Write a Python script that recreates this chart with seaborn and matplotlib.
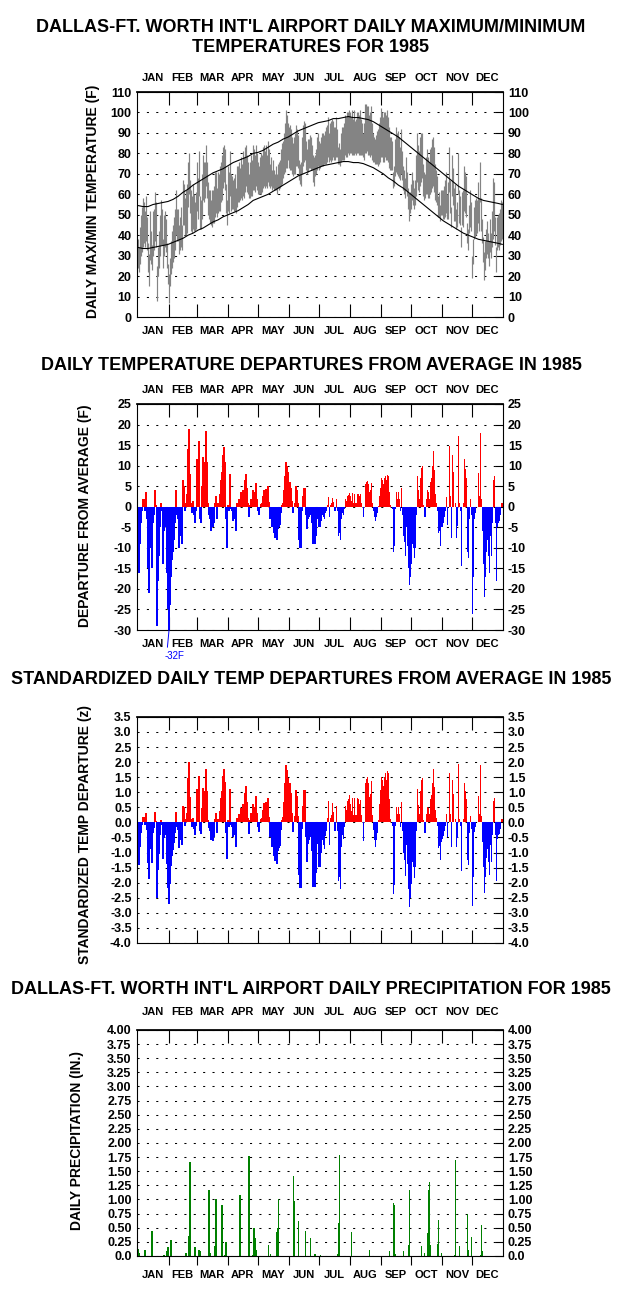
import numpy as np
import pandas as pd
import matplotlib
matplotlib.use('Agg')
import matplotlib.pyplot as plt
import seaborn as sns

# ---- calendar ----
months = ['JAN', 'FEB', 'MAR', 'APR', 'MAY', 'JUN', 'JUL', 'AUG', 'SEP', 'OCT', 'NOV', 'DEC']
month_days = [31, 28, 31, 30, 31, 30, 31, 31, 30, 31, 30, 31]

# ---- daily departure from normal mean temperature (F) ----
departure = [
    -13, -16, -9, -4, -1, 2, 2, -1, 3.5, -3, -15, -21, -4, -10, -15, -4, -2, 4, 0.5, -29, -18, -12, -5, 1, -1, -14, -6, -3, -5, -16, -25,  # jan
    -32, -24, -17, -13, -11, -8, -4, 4, -2, -3, -10, -7, -4, -9, 6.5, 5, -1, 1, 3, 14, 19, 8, 1, -1.5, 1.5, -2, -4, -1,  # feb
    11.5, 4, 16, -3, -4, 5, 12, 10.5, 11, 18.5, 11, 1, -2, -3, -6, -4, -5, -4, 1, 2.5, -3, 1, 1, 3, 6.5, 8.5, 12.5, 14.5, 11, -3, -10,  # mar
    0.5, -1, 8, -0.6, -1, -3.5, -3, -2, -6, 1, 1, 2, 1, 3.5, 1.5, 4, 3, 6.5, 8, 4.5, 1, -2.5, 0.5, 2, 1, 4, 3.5, 1.5, 5.8, 2,  # apr
    -1, -2, 0, 0.6, 1, 2.5, 4, 2, 4.2, 1, 5, 1.2, -3, -1, -5, -3, -6.5, -7.5, -5.5, -8, -5.5, -5, -4.5, -1.5, 0.5, 1, 4, 7.5, 11, 10, 8.5,  # may
    5.5, 6, 4.5, 1.5, -1.5, 0, 1, 5, 4, 1, -8, -10, -10, -1, 2.5, 4.5, 4.5, -2, -5.5, -3, -2.5, -1.5, -2, -4, -9, -9, -9, -7, -3, -2.5,  # jun
    -5, -5, -3.5, -2, -2.5, -3, -1.5, -1, 0.5, 2.4, -2.5, 0.5, 0.8, 2.2, 1.2, -1, -1, 2, -1, -7, -6.5, -8, -3, -1.5, -2, -0.5, 2, 1.5, 2.5, 2.8, 3.3,  # jul
    2.5, 1.5, 3.3, 1, 3.2, 1, 1, 3.2, 3.1, 2.5, 3, 1, 0, -2.5, 0, 5.5, 6, 6.3, 5.5, 3.5, 4, 5.8, 1, -1, -2.5, -3.5, -2.5, -1.5, 0.3, 2.5, 4.5,  # aug
    7, 6.5, 5.5, 7, 7.5, 6.5, 7.8, 7.5, 3.5, 0.5, 0, -0.5, -11, -9.5, -0.5, 3.5, 2, 3.5, 2, -1, 4.5, -2, -7, -8.5, -12, -5, -9.5, -15, -19, -17,  # sep
    -14, -9, -10, -12.5, -10, -2, 7.5, 4, 2, 7, 9.5, 10, 0.5, -2.5, -2.5, 2, 4, 3.5, 2, 6, 7, 10, 13.5, 9, 3, 1, -1, -6.5, -6, -9.5, -5,  # oct
    -5, -4, -2.5, -1, 2.4, -4.5, 0, 14.7, 2.5, -7.5, 12.6, 8.5, 0, 1, -7.5, -4.7, 17.2, 1, -1, -14.5, 0, 1, 11.5, 9.3, 7, -11, -12.5, -3, 2, -2,  # nov
    -26, -17, -3, -1.5, 0, 0, 8.2, 2.5, 18, 2, -6, -14, -22, -17, -11, -8, -12, -16, -7, -12, -4, 6.5, 7.5, -4, -18, -5, -4, -3.5, -2, 1, 1,  # dec
]

# standard deviation of daily mean temp, per half month (1st-15th, 16th-end)
sd_half_month = [11.2, 11.5, 11.8, 9.5, 10.5, 8.2, 7.2, 6.7, 6.2, 5.8, 4.6, 4.2,
                 3.4, 3.6, 4.0, 4.2, 4.6, 6.8, 6.8, 7.6, 9.0, 8.9, 9.4, 9.2]

# ---- daily max / min temperatures (F) ----
tmax = [
    38, 34, 44, 50, 54, 58, 56, 52, 59, 49, 36, 31, 52, 42, 35, 52, 53, 61, 56, 25, 34, 42, 50, 57, 53, 38, 50, 52, 48, 36, 26,
    21, 29, 37, 42, 45, 49, 53, 62, 53, 53, 45, 49, 54, 45, 67, 65, 58, 62, 65, 76, 80, 67, 62, 59, 65, 60, 56, 61,
    76, 68, 81, 59, 57, 70, 79, 76, 76, 84, 76, 66, 62, 62, 57, 62, 62, 64, 71, 71, 63, 71, 70, 74, 76, 79, 83, 84, 82, 65, 57,
    74, 71, 81, 70, 69, 67, 68, 70, 63, 74, 74, 76, 73, 78, 75, 81, 78, 83, 84, 79, 76, 70, 76, 79, 77, 84, 82, 79, 84, 80,
    76, 74, 78, 80, 79, 83, 84, 81, 84, 79, 86, 82, 75, 78, 72, 77, 72, 70, 74, 70, 75, 76, 77, 82, 85, 86, 90, 95, 101, 99, 95,
    93, 94, 92, 88, 85, 88, 90, 94, 92, 89, 77, 75, 76, 88, 94, 96, 95, 86, 82, 87, 87, 89, 88, 84, 79, 78, 79, 82, 88, 90,
    86, 85, 88, 90, 90, 89, 91, 93, 94, 98, 90, 95, 96, 97, 96, 93, 93, 98, 92, 83, 85, 82, 90, 93, 93, 95, 99, 98, 100, 100, 101,
    100, 98, 101, 97, 101, 96, 97, 100, 100, 99, 101, 97, 95, 90, 95, 104, 104, 103, 103, 99, 100, 103, 95, 90, 88, 87, 89, 91, 92, 95, 98,
    102, 100, 98, 100, 100, 99, 101, 98, 93, 88, 88, 86, 71, 74, 87, 93, 90, 91, 88, 83, 92, 81, 74, 72, 68, 78, 71, 63, 60, 61,
    65, 71, 67, 63, 67, 79, 90, 84, 81, 88, 90, 90, 75, 71, 70, 78, 82, 78, 76, 82, 83, 87, 88, 83, 75, 72, 69, 59, 61, 55, 62,
    62, 62, 64, 67, 71, 60, 66, 83, 67, 54, 79, 73, 63, 65, 53, 56, 80, 62, 59, 44, 61, 62, 74, 71, 69, 46, 43, 55, 62, 56,
    30, 38, 54, 57, 58, 57, 66, 58, 76, 58, 48, 39, 32, 37, 43, 47, 41, 37, 48, 41, 52, 68, 66, 49, 34, 49, 50, 51, 53, 57, 56,
]
tmin = [
    24, 22, 26, 30, 32, 34, 36, 34, 37, 33, 22, 15, 28, 26, 23, 30, 33, 37, 34, 8, 20, 24, 30, 35, 35, 24, 30, 34, 32, 24, 16,
    7, 15, 21, 24, 27, 29, 33, 40, 37, 37, 31, 33, 34, 33, 45, 45, 40, 40, 41, 54, 60, 51, 42, 41, 43, 42, 42, 43,
    52, 48, 59, 43, 43, 48, 57, 56, 58, 64, 58, 50, 48, 46, 45, 44, 46, 46, 49, 51, 49, 51, 52, 52, 56, 57, 63, 66, 62, 51, 45,
    52, 51, 59, 52, 53, 53, 52, 52, 51, 54, 56, 56, 57, 58, 57, 59, 58, 61, 64, 61, 60, 58, 58, 59, 59, 62, 62, 61, 64, 62,
    60, 60, 60, 60, 61, 63, 64, 63, 64, 63, 66, 64, 63, 64, 62, 63, 62, 62, 62, 60, 63, 62, 63, 64, 65, 68, 70, 71, 73, 73, 77,
    73, 72, 72, 70, 69, 70, 70, 74, 74, 73, 67, 65, 64, 70, 74, 76, 77, 72, 70, 71, 73, 73, 72, 72, 66, 64, 69, 70, 72, 74,
    72, 73, 74, 74, 74, 75, 75, 75, 76, 78, 76, 77, 76, 77, 78, 77, 77, 78, 78, 75, 75, 74, 76, 77, 77, 77, 79, 78, 78, 80, 79,
    80, 80, 79, 79, 79, 80, 79, 80, 80, 79, 79, 79, 79, 78, 77, 80, 80, 81, 79, 79, 78, 79, 77, 76, 76, 75, 75, 75, 74, 75, 76,
    78, 78, 76, 76, 78, 77, 77, 76, 73, 72, 72, 72, 63, 64, 69, 71, 70, 69, 68, 67, 70, 67, 62, 60, 58, 62, 59, 53, 47, 51,
    53, 57, 55, 53, 55, 59, 66, 62, 61, 64, 66, 68, 59, 57, 58, 60, 60, 58, 58, 60, 61, 63, 64, 61, 57, 56, 55, 49, 49, 47, 50,
    50, 48, 48, 49, 51, 48, 48, 61, 51, 44, 59, 55, 47, 47, 43, 44, 60, 46, 45, 34, 45, 44, 52, 51, 49, 36, 33, 41, 44, 42,
    19, 26, 38, 39, 40, 41, 46, 42, 56, 42, 36, 27, 18, 23, 29, 31, 29, 25, 32, 29, 34, 38, 42, 35, 22, 33, 34, 33, 35, 37, 38,
]

# ---- normal max / min (F), every 5th day ----
norm_days = list(range(0, 361, 5)) + [364]
norm_max = [54.5, 54, 54, 55, 55.5, 56, 56.5, 57.5, 59, 61,
            62.5, 64.5, 66, 67.5, 69, 70.5, 71.5, 72.5, 74, 75.5,
            76.5, 77.5, 78.5, 80, 80.5, 81.5, 83, 84.5, 85.5, 87,
            88, 89.5, 91, 92, 93, 94, 95, 95.5, 96, 97,
            97, 97.5, 98, 97.5, 97.5, 97, 96.5, 95.5, 94, 92.5,
            91, 89.5, 88, 86, 84, 82, 80, 78, 76, 74,
            72, 70, 68, 66, 64, 62.5, 61, 59.5, 58, 57,
            56.5, 56, 55.5, 55]
norm_min = [34, 33.5, 33.5, 34, 34.5, 35, 35.5, 36.5, 37.5, 38.5,
            40, 41, 42.5, 43.5, 45, 46.5, 47.5, 49, 50, 51,
            52, 53.5, 55, 57, 58, 59, 60, 61.5, 63, 64.5,
            66, 67.5, 69, 70, 71, 72, 73, 74, 74.5, 75,
            75.5, 76, 76, 75.5, 75.5, 75, 74, 73, 71.5, 70,
            68, 66.5, 64.5, 63, 61, 59, 57, 55, 53, 51,
            49, 47, 45.5, 44, 42.5, 41, 40, 39, 38, 37.5,
            37, 36.5, 36, 35.5]

# ---- daily precipitation (inches), rainy days only ----
rain_days = [0, 1, 7, 14, 26, 29, 30, 33, 48, 51, 52, 57, 61, 62, 71, 72, 77, 78, 84, 87,
             88, 102, 111, 115, 116, 117, 118, 130, 132, 138, 139, 140, 155, 156, 160, 167, 172, 176, 177, 182,
             199, 200, 201, 213, 231, 251, 255, 256, 257, 265, 270, 271, 283, 286, 289, 290, 291, 292, 299, 300,
             303, 316, 317, 321, 329, 330, 333, 342, 343, 344]
rain_inches = [0.12, 0.05, 0.11, 0.45, 0.02, 0.09, 0.16, 0.29, 0.06, 0.36, 1.66, 0.15, 0.11, 0.08, 1.17, 0.06, 0.18, 1.0, 0.91, 0.02,
               0.24, 1.07, 1.76, 0.02, 0.5, 0.32, 0.11, 0.2, 0.04, 0.43, 0.5, 1.0, 1.42, 0.98, 0.61, 0.45, 0.32, 0.04, 0.04, 0.02,
               0.04, 0.59, 1.78, 0.43, 0.11, 0.08, 0.94, 0.91, 0.04, 0.08, 0.2, 1.16, 0.17, 0.06, 0.4, 1.17, 1.3, 0.2, 0.22, 0.64,
               0.06, 0.02, 1.69, 0.17, 0.75, 0.11, 0.34, 0.02, 0.54, 0.08]

# ---- derived tables ----
starts = np.concatenate([[0], np.cumsum(month_days)[:-1]])
month_edges = list(np.cumsum(month_days)[:-1])
month_mids = list(starts + np.array(month_days) / 2)
day_x = np.arange(365) + 0.5
dom = np.concatenate([np.arange(n) for n in month_days])
mon = np.repeat(np.arange(12), month_days)
sd_day = np.array(sd_half_month)[mon * 2 + (dom >= 15)]

dep = np.array(departure, dtype=float)
df_dep = pd.DataFrame({'day': day_x, 'dep': dep, 'z': dep / sd_day,
                       'sign': np.where(dep >= 0, 'pos', 'neg')})
df_rain = pd.DataFrame({'day': np.array(rain_days) + 0.5, 'inches': rain_inches})
df_norm = pd.DataFrame({'day': np.array(norm_days) + 0.5, 'nmax': norm_max, 'nmin': norm_min})

# ---- style ----
sns.set_theme(style='white', rc={'axes.edgecolor': 'black', 'text.color': 'black',
                                 'xtick.color': 'black', 'ytick.color': 'black'})
plt.rcParams['font.family'] = ['Liberation Sans', 'DejaVu Sans']
plt.rcParams['font.weight'] = 'bold'

fig = plt.figure(figsize=(6.34, 12.94), dpi=100)
L, W = 0.2153, 0.578
ax1 = fig.add_axes([L, 0.7550, W, 0.1739])
ax2 = fig.add_axes([L, 0.5131, W, 0.1747])
ax3 = fig.add_axes([L, 0.2713, W, 0.1747])
ax4 = fig.add_axes([L, 0.0294, W, 0.1747])


def style_axis(ax, yticks, ylabels, top_labels=True, bottom_labels=True,
               bottom_out=False, top_pad=6.5, bottom_pad=6.5):
    ax.set_xlabel('')
    ax.set_ylabel('')
    ax.set_xlim(-1, 365)
    ax.set_ylim(yticks[0], yticks[-1])
    ax.set_yticks(yticks, labels=ylabels)
    ax.tick_params(axis='y', left=False, right=True, labelleft=True, labelright=True,
                   direction='in', length=6, width=0.8, pad=3.5, labelsize=9)
    ax.grid(axis='y', color='black', linestyle=(0, (2, 7)), linewidth=0.75)
    ax.grid(axis='x', visible=False)
    ax.set_axisbelow(True)
    ax.set_xticks(month_edges, labels=[''] * len(month_edges))
    ax.tick_params(axis='x', which='major', top=False, bottom=True,
                   direction='out' if bottom_out else 'in',
                   length=6.5 if bottom_out else 9.5, width=0.8)
    if bottom_labels:
        ax.set_xticks(month_mids, labels=months, minor=True)
        ax.tick_params(axis='x', which='minor', length=0, pad=bottom_pad, labelsize=8)
    top = ax.secondary_xaxis('top')
    top.set_xticks(month_edges, labels=[''] * len(month_edges))
    top.tick_params(axis='x', which='major', direction='in', length=9.5, width=0.8)
    if top_labels:
        top.set_xticks(month_mids, labels=months, minor=True)
        top.tick_params(axis='x', which='minor', length=0, pad=top_pad, labelsize=8)
    for s in ax.spines.values():
        s.set_color('black')
        s.set_linewidth(0.8)


# panel 1: max/min temperatures with normals
ax1.vlines(day_x, tmin, tmax, color='#848484', linewidth=0.85)
sns.lineplot(data=df_norm, x='day', y='nmax', color='black', linewidth=0.8, ax=ax1)
sns.lineplot(data=df_norm, x='day', y='nmin', color='black', linewidth=0.8, ax=ax1)
t1 = np.arange(0, 111, 10)
style_axis(ax1, t1, [str(v) for v in t1])

# panel 2: departures
pal = {'pos': '#ff0000', 'neg': '#0000ff'}
sns.barplot(data=df_dep, x='day', y='dep', hue='sign', palette=pal,
            native_scale=True, width=1.45, dodge=False, saturation=1, errorbar=None,
            legend=False, linewidth=0, ax=ax2)
t2 = np.arange(-30, 26, 5)
style_axis(ax2, t2, [str(v) for v in t2])
ax2.annotate('-32F', xy=(31.5, -30), xytext=(36.5, -36.2), textcoords='data',
             ha='center', va='center', fontsize=7, color='#0000ff', fontweight='normal',
             arrowprops=dict(arrowstyle='-', color='#0000ff', lw=0.7, shrinkA=0, shrinkB=0,
                             relpos=(0.15, 1.0)),
             annotation_clip=False)

# panel 3: standardized departures
sns.barplot(data=df_dep, x='day', y='z', hue='sign', palette=pal,
            native_scale=True, width=1.45, dodge=False, saturation=1, errorbar=None,
            legend=False, linewidth=0, ax=ax3)
t3 = np.arange(-4.0, 3.51, 0.5)
style_axis(ax3, t3, ['%.1f' % v for v in t3], top_labels=False, bottom_labels=False)

# panel 4: precipitation
sns.barplot(data=df_rain, x='day', y='inches', color='#008000', native_scale=True, width=1.3,
            saturation=1, errorbar=None, linewidth=0, ax=ax4)
t4 = np.arange(0, 4.01, 0.25)
style_axis(ax4, t4, ['0.0'] + ['%.2f' % v for v in t4[1:]], bottom_out=True,
           top_pad=9, bottom_pad=10)

# titles
cx = 0.4905
H = 1294.0
fig.text(cx, 1 - 27 / H, "DALLAS-FT. WORTH INT'L AIRPORT DAILY MAXIMUM/MINIMUM",
         ha='center', va='center', fontsize=13, fontweight='bold')
fig.text(cx, 1 - 48 / H, 'TEMPERATURES FOR 1985', ha='center', va='center', fontsize=13, fontweight='bold')
fig.text(cx, 1 - 366 / H, 'DAILY TEMPERATURE DEPARTURES FROM AVERAGE IN 1985',
         ha='center', va='center', fontsize=13, fontweight='bold')
fig.text(cx, 1 - 680 / H, 'STANDARDIZED DAILY TEMP DEPARTURES FROM AVERAGE IN 1985',
         ha='center', va='center', fontsize=13, fontweight='bold')
fig.text(cx, 1 - 990 / H, "DALLAS-FT. WORTH INT'L AIRPORT DAILY PRECIPITATION FOR 1985",
         ha='center', va='center', fontsize=13, fontweight='bold')

# y labels
fig.text(93 / 634, 1 - 201 / H, 'DAILY MAX/MIN TEMPERATURE (F)', rotation=90,
         ha='center', va='center', fontsize=10, fontweight='bold')
fig.text(85 / 634, 1 - 516 / H, 'DEPARTURE FROM AVERAGE (F)', rotation=90,
         ha='center', va='center', fontsize=10, fontweight='bold')
fig.text(85 / 634, 1 - 834 / H, 'STANDARDIZED TEMP DEPARTURE (z)', rotation=90,
         ha='center', va='center', fontsize=10, fontweight='bold')
fig.text(77 / 634, 1 - 1141 / H, 'DAILY PRECIPITATION (IN.)', rotation=90,
         ha='center', va='center', fontsize=10, fontweight='bold')

fig.savefig('out.png', dpi=100)
